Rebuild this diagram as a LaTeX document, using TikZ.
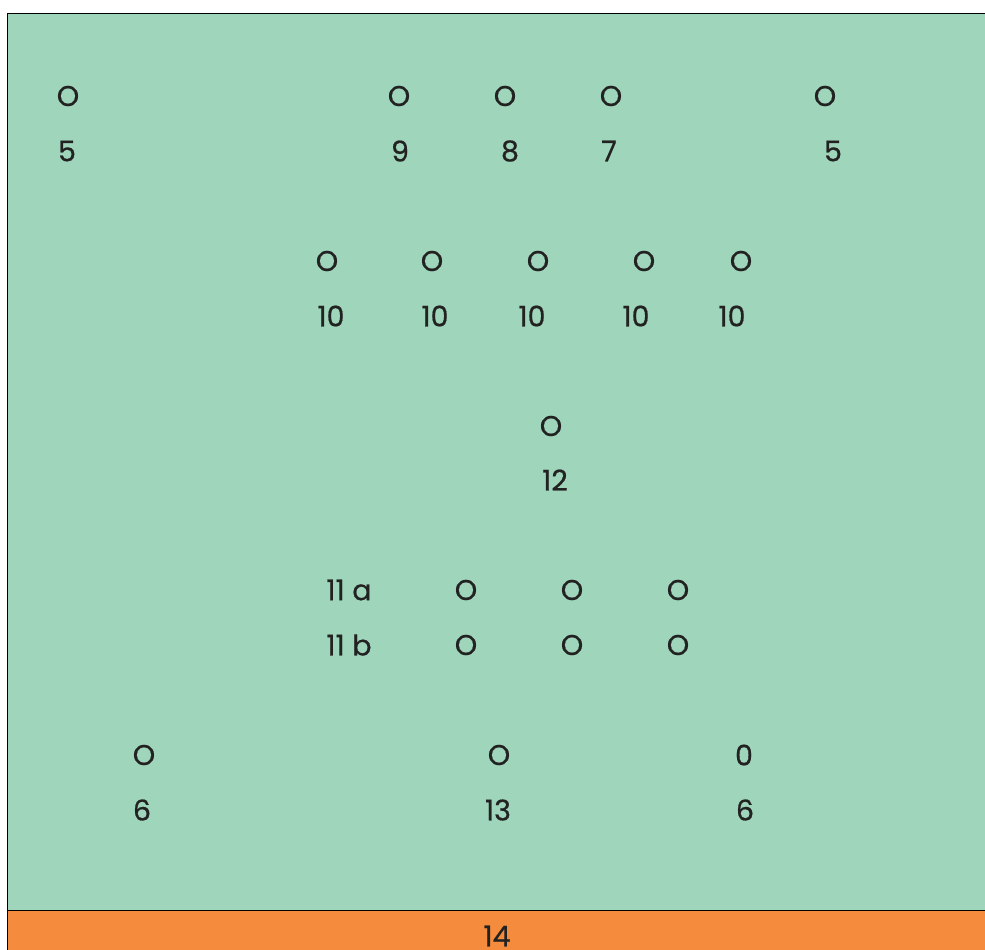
\documentclass[tikz,border=0pt]{standalone}
\usepackage{fontspec}
\setmainfont{Poppins}
\newfontfamily\lblfont{Poppins}[FakeBold=0.6]
\begin{document}
\begin{tikzpicture}[x=1pt,y=-1pt,
  lbl/.style={font=\lblfont\fontsize{28.5}{30}\selectfont, text=txt, inner sep=0pt, anchor=center}]
\definecolor{bggreen}{HTML}{9FD5BA}
\definecolor{band}{HTML}{F58B3C}
\definecolor{txt}{HTML}{222222}
\useasboundingbox (0,0) rectangle (985,950);
\fill[white] (0,0) rectangle (985,950);
\fill[bggreen] (7,13) rectangle (985,910);
\fill[band] (7,910) rectangle (985,950);
\draw[black, line width=0.8pt] (985,13) -- (7,13) -- (7,950);
\draw[black, line width=0.8pt] (7,910) -- (985,910);
% row 1
\node[lbl] (o1a) at (68,96) {O};
\node[lbl] (o1b) at (399,96) {O};
\node[lbl] (o1c) at (505,96) {O};
\node[lbl] (o1d) at (611,96) {O};
\node[lbl] (o1e) at (825,96) {O};
\node[lbl] (n1a) at (67,151) {5};
\node[lbl] (n1b) at (400,151) {9};
\node[lbl] (n1c) at (510,151) {8};
\node[lbl] (n1d) at (609,151) {7};
\node[lbl] (n1e) at (833,151) {5};
% row 2
\node[lbl] (o2a) at (327,261) {O};
\node[lbl] (o2b) at (432,261) {O};
\node[lbl] (o2c) at (538,261) {O};
\node[lbl] (o2d) at (644,261) {O};
\node[lbl] (o2e) at (741,261) {O};
\node[lbl] (n2a) at (331,316) {10};
\node[lbl] (n2b) at (435,316) {10};
\node[lbl] (n2c) at (532,316) {10};
\node[lbl] (n2d) at (636,316) {10};
\node[lbl] (n2e) at (732,316) {10};
% row 3
\node[lbl] (o3) at (551,426) {O};
\node[lbl] (n3) at (555,480) {12};
% row 4
\node[lbl] (l4a) at (349,590) {11 a};
\node[lbl] (o4a) at (466,590) {O};
\node[lbl] (o4b) at (572,590) {O};
\node[lbl] (o4c) at (678,590) {O};
\node[lbl] (l4b) at (349,645) {11 b};
\node[lbl] (o4d) at (466,645) {O};
\node[lbl] (o4e) at (572,645) {O};
\node[lbl] (o4f) at (678,645) {O};
% row 5
\node[lbl] (o5a) at (144,755) {O};
\node[lbl] (o5b) at (499,755) {O};
\node[lbl] (o5c) at (744,755) {0};
\node[lbl] (n5a) at (142,810) {6};
\node[lbl] (n5b) at (498,810) {13};
\node[lbl] (n5c) at (745,810) {6};
% band
\node[lbl] (n14) at (497,936) {14};
\end{tikzpicture}
\end{document}
